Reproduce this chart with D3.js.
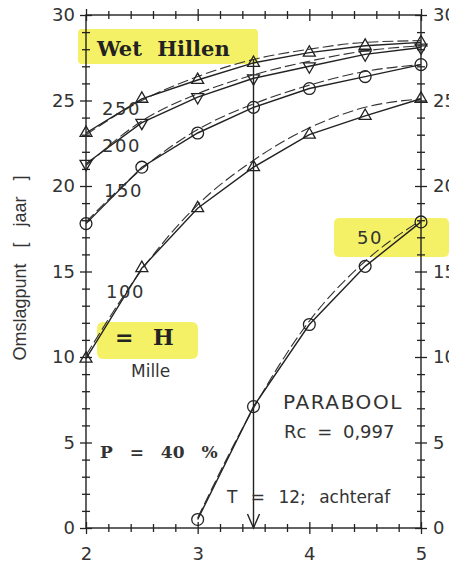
<!DOCTYPE html>
<html lang="nl">
<head>
<meta charset="UTF-8">
<title>Omslagpunt - Wet Hillen</title>
<style>
  body { margin: 0; background: #fff; }
  text { fill: #333; }
</style>
</head>
<body>
<script src="https://d3js.org/d3.v7.min.js"></script>
<script>
// data
let xs = [2, 2.5, 3, 3.5, 4, 4.5, 5];
let seriesNames = ['250', '200', '150', '100', '50'];
let s250 = [23.1, 25.1, 26.2, 27.2, 27.8, 28.2, 28.4];
let s200 = [21.3, 23.7, 25.2, 26.3, 27.0, 27.7, 28.1];
let s150 = [17.8, 21.1, 23.1, 24.6, 25.7, 26.4, 27.1];
let s100 = [9.9, 15.2, 18.7, 21.1, 23.0, 24.1, 25.1];
let s50 = [null, null, 0.5, 7.1, 11.9, 15.3, 17.9];
// parabola fit (dashed)
let f250 = [23.0, 25.0, 26.4, 27.4, 28.0, 28.4, 28.5];
let f200 = [21.2, 23.8, 25.4, 26.5, 27.3, 27.9, 28.2];
let f150 = [17.9, 21.0, 23.3, 24.8, 25.9, 26.7, 27.1];
let f100 = [10.1, 15.1, 18.9, 21.5, 23.4, 24.6, 25.1];
let f50 = [null, null, 0.6, 7.0, 12.1, 15.6, 18.0];
let markers = ['up', 'down', 'circle', 'up', 'circle'];
let xMajor = [2, 3, 4, 5];
let yMajor = [0, 5, 10, 15, 20, 25, 30];
let arrowX = 3.5;

let solid = [s250, s200, s150, s100, s50];
let fits = [f250, f200, f150, f100, f50];

let W = 449, H = 565;
let pLeft = 86, pRight = 421, pTop = 15, pBottom = 528;

let x = d3.scaleLinear().domain([2, 5]).range([pLeft, pRight]);
let y = d3.scaleLinear().domain([0, 30]).range([pBottom, pTop]);

let svg = d3.select('body').append('svg')
    .attr('width', W).attr('height', H)
    .style('font-family', 'DejaVu Sans, sans-serif');

// yellow highlighter blobs
let hl = '#f4f166';
svg.append('rect').attr('x', 78).attr('y', 29).attr('width', 180).attr('height', 35).attr('rx', 4).attr('fill', hl);
svg.append('rect').attr('x', 97).attr('y', 322).attr('width', 101).attr('height', 37).attr('rx', 6).attr('fill', hl);
svg.append('rect').attr('x', 334).attr('y', 218).attr('width', 115).attr('height', 39).attr('rx', 5).attr('fill', hl);

// frame
svg.append('rect')
    .attr('x', pLeft).attr('y', pTop)
    .attr('width', pRight - pLeft).attr('height', pBottom - pTop)
    .attr('fill', 'none').attr('stroke', '#222').attr('stroke-width', 1.4);

// crossing ticks on all four sides
function tickRow(axisFn, scale, vals, half, tx, ty, vertical) {
    let g = svg.append('g')
        .attr('transform', 'translate(' + tx + ',' + ty + ')')
        .call(axisFn(scale).tickValues(vals).tickFormat('').tickSize(0));
    g.select('.domain').remove();
    g.selectAll('.tick line')
        .attr(vertical ? 'x1' : 'y1', -half)
        .attr(vertical ? 'x2' : 'y2', half)
        .attr('stroke', '#222').attr('stroke-width', 1.3);
}
let xMinor = d3.range(2, 5.001, 0.2).filter(v => Math.abs(v - Math.round(v)) > 0.01);
let yMinor = d3.range(0, 30.01, 1).filter(v => v % 5 !== 0);
tickRow(d3.axisBottom, x, xMinor, 4, 0, pBottom, false);
tickRow(d3.axisBottom, x, xMajor, 6, 0, pBottom, false);
tickRow(d3.axisTop, x, xMinor, 4, 0, pTop, false);
tickRow(d3.axisTop, x, xMajor, 6, 0, pTop, false);
tickRow(d3.axisLeft, y, yMinor, 4, pLeft, 0, true);
tickRow(d3.axisLeft, y, yMajor, 6, pLeft, 0, true);
tickRow(d3.axisRight, y, yMinor, 4, pRight, 0, true);
tickRow(d3.axisRight, y, yMajor, 6, pRight, 0, true);

// tick labels
function labelAxis(g) {
    g.select('.domain').remove();
    g.selectAll('.tick line').remove();
    g.selectAll('text').attr('font-size', 18).attr('fill', '#333')
        .attr('font-family', 'DejaVu Sans, sans-serif');
}
svg.append('g').attr('transform', 'translate(0,' + pBottom + ')')
    .call(d3.axisBottom(x).tickValues(xMajor).tickFormat(d3.format('d')).tickSize(0).tickPadding(19))
    .call(labelAxis);
svg.append('g').attr('transform', 'translate(' + pLeft + ',0)')
    .call(d3.axisLeft(y).tickValues(yMajor).tickFormat(d3.format('d')).tickSize(0).tickPadding(11))
    .call(labelAxis);
svg.append('g').attr('transform', 'translate(' + pRight + ',0)')
    .call(d3.axisRight(y).tickValues(yMajor).tickFormat(d3.format('d')).tickSize(0).tickPadding(12))
    .call(labelAxis);

svg.append('text')
    .attr('transform', 'translate(26,268) rotate(-90)')
    .attr('text-anchor', 'middle')
    .attr('font-family', 'Liberation Sans, Arial, sans-serif')
    .attr('font-size', 18)
    .attr('word-spacing', 3)
    .style('white-space', 'pre')
    .text('Omslagpunt  [  jaar  ]');

// lines
let solidLine = d3.line()
    .defined(d => d[1] !== null)
    .x(d => x(d[0])).y(d => y(d[1]));
let fitLine = d3.line()
    .defined(d => d[1] !== null)
    .curve(d3.curveMonotoneX)
    .x(d => x(d[0])).y(d => y(d[1]));

fits.forEach(vals => {
    svg.append('path')
        .datum(xs.map((v, i) => [v, vals[i]]))
        .attr('d', fitLine)
        .attr('fill', 'none').attr('stroke', '#333')
        .attr('stroke-width', 1.1).attr('stroke-dasharray', '11,4');
});
solid.forEach(vals => {
    svg.append('path')
        .datum(xs.map((v, i) => [v, vals[i]]))
        .attr('d', solidLine)
        .attr('fill', 'none').attr('stroke', '#222').attr('stroke-width', 1.4);
});

// markers
let symTri = d3.symbol().type(d3.symbolTriangle).size(62);
let symCirc = d3.symbol().type(d3.symbolCircle).size(110);
solid.forEach((vals, k) => {
    let pts = xs.map((v, i) => [v, vals[i]]).filter(d => d[1] !== null);
    svg.append('g').selectAll('path')
        .data(pts).enter().append('path')
        .attr('d', markers[k] === 'circle' ? symCirc : symTri)
        .attr('transform', d => 'translate(' + x(d[0]) + ',' + y(d[1]) + ')' + (markers[k] === 'down' ? ' rotate(180)' : ''))
        .attr('fill', 'none').attr('stroke', '#222').attr('stroke-width', 1.3);
});

// vertical arrow at T
let ia = xs.indexOf(arrowX);
svg.append('line')
    .attr('x1', x(arrowX)).attr('x2', x(arrowX))
    .attr('y1', y(s250[ia]) - 4).attr('y2', y(0) - 1)
    .attr('stroke', '#222').attr('stroke-width', 1.4);
svg.append('path')
    .attr('d', 'M' + (x(arrowX) - 6) + ',' + (y(0) - 14) + ' L' + x(arrowX) + ',' + y(0) + ' L' + (x(arrowX) + 6) + ',' + (y(0) - 14))
    .attr('fill', 'none').attr('stroke', '#222').attr('stroke-width', 1.4);

// series labels
let seriesLabelPos = [[102, 115], [102, 152], [104, 197], [106, 298], [357, 244]];
seriesNames.forEach((n, k) => {
    svg.append('text')
        .attr('x', seriesLabelPos[k][0]).attr('y', seriesLabelPos[k][1])
        .attr('font-size', 18).attr('letter-spacing', 1.5)
        .text(n);
});

// bold serif annotations
let serif = 'DejaVu Serif, Liberation Serif, serif';
svg.append('text').attr('x', 97).attr('y', 56)
    .attr('font-family', serif).attr('font-weight', 'bold').attr('font-size', 21)
    .attr('word-spacing', 8).style('fill', '#222')
    .text('Wet Hillen');
svg.append('text').attr('x', 115).attr('y', 345)
    .attr('font-family', serif).attr('font-weight', 'bold').attr('font-size', 22)
    .attr('word-spacing', 12).style('fill', '#222')
    .text('= H');
svg.append('text').attr('x', 100).attr('y', 458)
    .attr('font-family', serif).attr('font-weight', 'bold').attr('font-size', 17)
    .attr('word-spacing', 11).style('fill', '#333')
    .text('P = 40 %');

// sans annotations
svg.append('text').attr('x', 131).attr('y', 377).attr('font-size', 17).text('Mille');
svg.append('text').attr('x', 283).attr('y', 409).attr('font-size', 20).attr('letter-spacing', 1.6).text('PARABOOL');
svg.append('text').attr('x', 284).attr('y', 438).attr('font-size', 18).attr('word-spacing', 5).text('Rc = 0,997');
svg.append('text').attr('x', 227).attr('y', 503).attr('font-size', 17).attr('word-spacing', 8).text('T = 12; achteraf');
</script>
</body>
</html>
